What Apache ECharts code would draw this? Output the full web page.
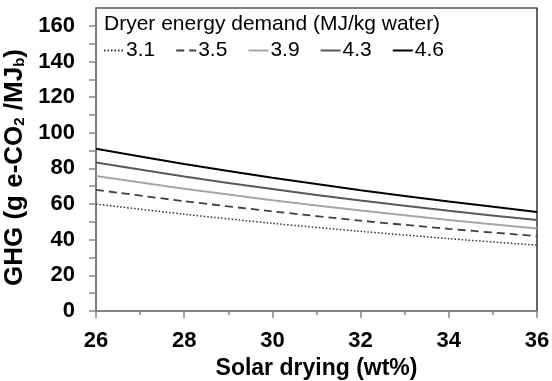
<!DOCTYPE html>
<html>
<head>
<meta charset="utf-8">
<script src="https://cdn.jsdelivr.net/npm/echarts@6/dist/echarts.min.js"></script>
<style>
  html, body { margin: 0; padding: 0; background: #fff; }
  #chart { width: 552px; height: 381px; }
</style>
</head>
<body>
<div id="chart"></div>
<script>
// Solar drying share (wt%) on the x axis
const solarDrying = [26, 28, 30, 32, 34, 36];

// GHG (g e-CO2/MJb) for each dryer energy demand (MJ/kg water)
const ghg31 = [60.0, 54.3, 49.2, 44.7, 40.6, 36.9];
const ghg35 = [68.0, 61.6, 55.9, 50.7, 46.1, 42.0];
const ghg39 = [75.7, 68.6, 62.2, 56.4, 51.1, 46.3];
const ghg43 = [83.3, 75.5, 68.4, 62.0, 56.2, 51.0];
const ghg46 = [91.0, 82.5, 74.8, 67.8, 61.4, 55.6];

const seriesNames = ['3.1', '3.5', '3.9', '4.3', '4.6'];
const yTickValues = [0, 10, 20, 30, 40, 50, 60, 70, 80, 90, 100, 110, 120, 130, 140, 150, 160];
const yLabelValues = [0, 20, 40, 60, 80, 100, 120, 140, 160];

const FONT = '"Liberation Sans", Arial, sans-serif';

function pairs(ys) {
  return solarDrying.map((x, i) => [x, ys[i]]);
}

const styles = [
  { color: '#333333', width: 1.5, type: [1.5, 2] },
  { color: '#404040', width: 1.8, type: [8, 5] },
  { color: '#a6a6a6', width: 2, type: 'solid' },
  { color: '#595959', width: 2, type: 'solid' },
  { color: '#000000', width: 2, type: 'solid' }
];
const values = [ghg31, ghg35, ghg39, ghg43, ghg46];

const chart = echarts.init(document.getElementById('chart'), null, { renderer: 'canvas' });

chart.setOption({
  animation: false,
  backgroundColor: '#ffffff',
  title: {
    text: 'Dryer energy demand (MJ/kg water)',
    left: 104,
    top: 14,
    padding: 0,
    textStyle: { fontFamily: FONT, fontSize: 21, fontWeight: 'normal', color: '#000' }
  },
  legend: {
    left: 103,
    top: 40,
    padding: 0,
    itemWidth: 20,
    itemHeight: 10,
    itemGap: 20,
    data: seriesNames,
    itemStyle: { opacity: 0 },
    textStyle: { fontFamily: FONT, fontSize: 21, color: '#000', padding: [0, 0, 0, -3] }
  },
  grid: {
    left: 96,
    right: 15,
    top: 8,
    bottom: 70,
    show: true,
    borderColor: '#000',
    borderWidth: 1.2,
    containLabel: false,
    outerBoundsMode: 'none'
  },
  xAxis: {
    type: 'value',
    min: 26,
    max: 36,
    interval: 2,
    name: 'Solar drying (wt%)',
    nameLocation: 'middle',
    nameGap: 45,
    nameTextStyle: { fontFamily: FONT, fontSize: 23, fontWeight: 'bold', color: '#000' },
    axisLine: { show: true, lineStyle: { color: '#868686', width: 1.5 } },
    axisTick: { show: true, inside: false, length: 7, lineStyle: { color: '#868686', width: 1.5 } },
    minorTick: { show: true, splitNumber: 2, length: 4, lineStyle: { color: '#868686', width: 1.5 } },
    splitLine: { show: false },
    axisLabel: { margin: 19, fontFamily: FONT, fontSize: 22, fontWeight: 'bold', color: '#000' }
  },
  yAxis: {
    type: 'value',
    min: 0,
    max: 170,
    name: '{t|GHG (g e-CO}{s|2}{t| /MJ}{s|b}{t|)}',
    nameLocation: 'middle',
    nameGap: 56,
    nameTextStyle: {
      padding: [0, 16, 0, 0],
      rich: {
        t: { fontFamily: FONT, fontSize: 26, fontWeight: 'bold', color: '#000', verticalAlign: 'bottom', lineHeight: 28 },
        s: { fontFamily: FONT, fontSize: 15, fontWeight: 'bold', color: '#000', verticalAlign: 'bottom', lineHeight: 16 }
      }
    },
    axisLine: { show: true, lineStyle: { color: '#868686', width: 1.5 } },
    axisTick: { show: true, inside: false, length: 7, customValues: yTickValues, lineStyle: { color: '#868686', width: 1.5 } },
    splitLine: { show: false },
    axisLabel: { margin: 21, customValues: yLabelValues, fontFamily: FONT, fontSize: 22, fontWeight: 'bold', color: '#000' }
  },
  series: seriesNames.map((name, i) => ({
    name: name,
    type: 'line',
    data: pairs(values[i]),
    smooth: 0.3,
    showSymbol: false,
    symbol: 'none',
    lineStyle: styles[i],
    itemStyle: { color: styles[i].color },
    z: 2 + i
  }))
});
</script>
</body>
</html>
